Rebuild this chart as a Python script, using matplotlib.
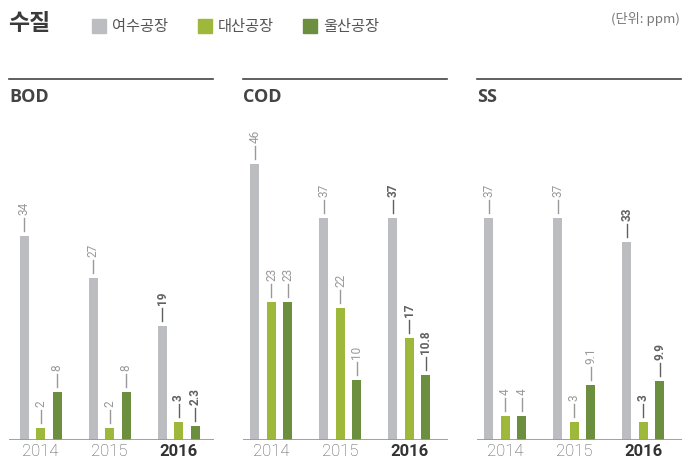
import numpy as np
import matplotlib.pyplot as plt
from matplotlib.lines import Line2D

# data
years = ['2014', '2015', '2016']
panel_names = ['BOD', 'COD', 'SS']
plants = ['여수공장', '대산공장', '울산공장']

bod_yeosu = [34, 27, 19]
bod_daesan = [2, 2, 3]
bod_ulsan = [8, 8, 2.3]

cod_yeosu = [46, 37, 37]
cod_daesan = [23, 22, 17]
cod_ulsan = [23, 10, 10.8]

ss_yeosu = [37, 37, 33]
ss_daesan = [4, 3, 3]
ss_ulsan = [4, 9.1, 9.9]

panel_data = [
    [bod_yeosu, bod_daesan, bod_ulsan],
    [cod_yeosu, cod_daesan, cod_ulsan],
    [ss_yeosu, ss_daesan, ss_ulsan],
]

colors = ['#bcbdc0', '#9db83a', '#6b8f3f']
KR = ['Noto Sans CJK KR', 'DejaVu Sans']
NUM = ['Roboto', 'DejaVu Sans']

W, H = 694, 467
fig = plt.figure(figsize=(W / 100, H / 100), dpi=100)

# header
fig.text(8 / W, 1 - 24 / H, '수질', family=KR, fontsize=16.5, fontweight='bold',
         color='#3a3a3a', va='center', ha='left')
leg_x = [92, 198, 303]
for px, name, c in zip(leg_x, plants, colors):
    fig.patches.append(plt.Rectangle((px / W, 1 - 33 / H), 14 / W, 14 / H,
                                     transform=fig.transFigure, color=c))
    fig.text((px + 20) / W, 1 - 26 / H, name, family=KR, fontsize=11,
             color='#555555', va='center', ha='left')
fig.text(680 / W, 1 - 19 / H, '(단위: ppm)', family=KR, fontsize=9.5,
         color='#777777', va='center', ha='right')

lefts = [9, 243, 477]
x_starts = [-0.457, -0.413, -0.413]
pw = 205
spacing = 69
bar_w = 9 / spacing
off = 16.5 / spacing
y_top = 55
ax_h = 330
upp = y_top / ax_h  # data units per pixel

for k in range(3):
    L = lefts[k]
    ax = fig.add_axes([L / W, 27 / H, pw / W, ax_h / H])
    ax.set_xlim(x_starts[k], x_starts[k] + pw / spacing)
    ax.set_ylim(0, y_top)
    for s in ax.spines.values():
        s.set_visible(False)
    ax.set_yticks([])
    ax.axhline(0, color='#9a9a9a', lw=1.3, zorder=3)
    x = np.arange(len(years))
    for j in range(3):
        vals = panel_data[k][j]
        xs = x + (j - 1) * off
        ax.bar(xs, vals, width=bar_w, color=colors[j], zorder=2)
        for i, (xx, v) in enumerate(zip(xs, vals)):
            bold = i == 2
            lc = '#606060' if bold else '#999999'
            ax.plot([xx, xx], [v + 5 * upp, v + 18 * upp], color=lc, lw=1,
                    clip_on=False)
            ax.text(xx, v + 21 * upp, f'{v:g}', rotation=90, ha='center',
                    va='bottom', family=NUM, fontsize=8.5,
                    fontweight='bold' if bold else 'normal', color=lc,
                    clip_on=False)
    ax.set_xticks(x)
    ax.set_xticklabels(years, family=NUM, fontsize=12)
    ax.tick_params(axis='x', length=0, pad=3)
    for i, t in enumerate(ax.get_xticklabels()):
        if i == 2:
            t.set_fontweight('bold')
            t.set_color('#333333')
        else:
            t.set_fontweight('light')
            t.set_color('#555555')

    # rule and panel title
    fig.add_artist(Line2D([L / W, (L + 204) / W], [1 - 79 / H, 1 - 79 / H],
                          color='#444444', lw=1.2))
    fig.text(L / W, 1 - 97 / H, panel_names[k], family=['Open Sans', 'DejaVu Sans'],
             fontsize=13, fontweight='bold', color='#444444', va='center', ha='left')

fig.savefig('out.png', dpi=100)
